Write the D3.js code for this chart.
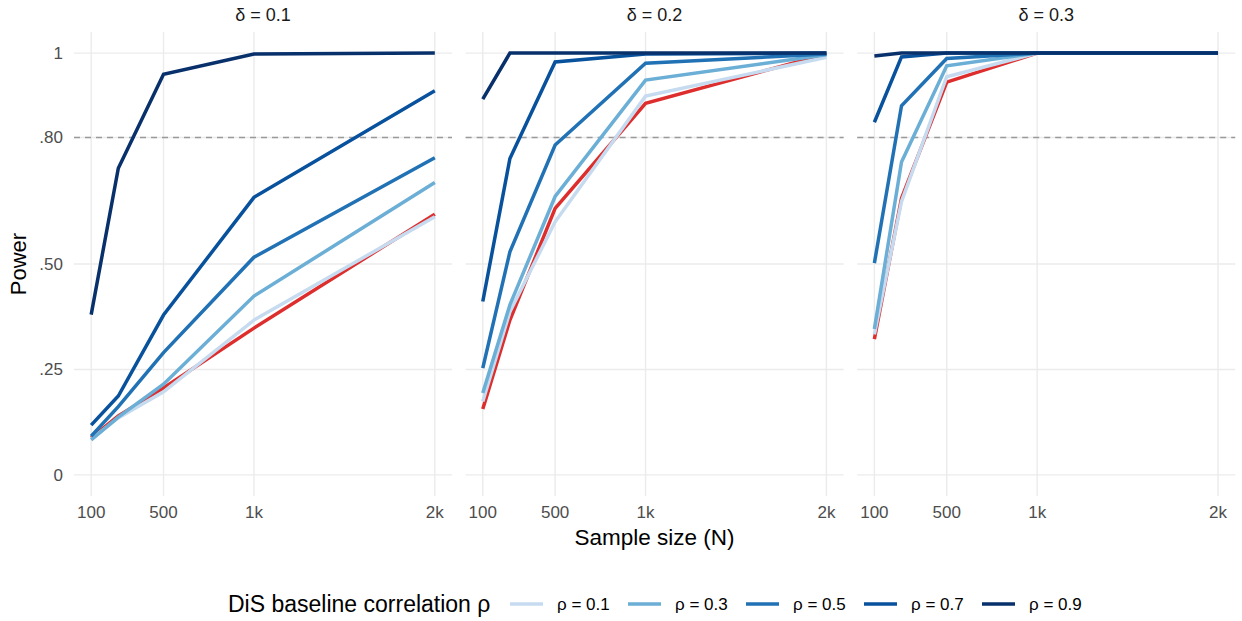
<!DOCTYPE html>
<html>
<head>
<meta charset="utf-8">
<script src="https://cdn.jsdelivr.net/npm/d3@7"></script>
<style>
  body { margin: 0; background: #fff; }
  text { font-family: "Liberation Sans", Arial, sans-serif; }
</style>
</head>
<body>
<div id="chart"></div>
<script>
// data
const sampleSizes = [100, 250, 500, 1000, 2000];
const deltas = ["0.1", "0.2", "0.3"];
const rhos = ["0.1", "0.3", "0.5", "0.7", "0.9"];
const xTicks = [100, 500, 1000, 2000];
const xTickLabels = ["100", "500", "1k", "2k"];
const yTicks = [0, 0.25, 0.5, 0.8, 1];
const yTickLabels = ["0", ".25", ".50", ".80", "1"];

// power per rho (rows) for each delta panel
const powerDelta1 = [
  [0.085, 0.135, 0.197, 0.367, 0.612],
  [0.083, 0.137, 0.215, 0.424, 0.693],
  [0.092, 0.162, 0.290, 0.516, 0.752],
  [0.118, 0.187, 0.379, 0.658, 0.911],
  [0.380, 0.727, 0.950, 0.998, 1.000]
];
const powerDelta2 = [
  [0.174, 0.387, 0.600, 0.898, 0.990],
  [0.194, 0.403, 0.660, 0.936, 0.996],
  [0.253, 0.529, 0.782, 0.976, 0.998],
  [0.411, 0.750, 0.979, 0.998, 1.000],
  [0.891, 1.000, 1.000, 1.000, 1.000]
];
const powerDelta3 = [
  [0.333, 0.648, 0.944, 1.000, 1.000],
  [0.346, 0.742, 0.970, 1.000, 1.000],
  [0.502, 0.875, 0.987, 1.000, 1.000],
  [0.836, 0.991, 1.000, 1.000, 1.000],
  [0.993, 1.000, 1.000, 1.000, 1.000]
];
// red reference curve (not in legend)
const referencePower = [
  [0.088, 0.140, 0.206, 0.348, 0.618],
  [0.156, 0.367, 0.632, 0.881, 0.998],
  [0.322, 0.656, 0.931, 1.000, 1.000]
];
const powerTarget = 0.8;

const panels = [powerDelta1, powerDelta2, powerDelta3];
const rhoColors = ["#c6dbef", "#6baed6", "#2171b5", "#08519c", "#08306b"];
const refColor = "#de2d2d";

const W = 1242, H = 621;
const panelLeft = 74, panelW = 378, panelGap = 13.6;
const panelTop = 32, panelBottom = 496;
const lw = 3.5;

const svg = d3.select("#chart").append("svg")
  .attr("width", W).attr("height", H);

const y = d3.scaleLinear().domain([-0.05, 1.05]).range([panelBottom, panelTop]);

const line = (xs) => d3.line()
  .x((d, i) => xs(sampleSizes[i]))
  .y(d => y(d));

panels.forEach((rows, p) => {
  const x0 = panelLeft + p * (panelW + panelGap);
  const x = d3.scaleLinear().domain([5, 2095]).range([x0, x0 + panelW]);
  const g = svg.append("g");

  // grid
  g.selectAll(".hg").data(yTicks).join("line")
    .attr("x1", x0).attr("x2", x0 + panelW)
    .attr("y1", d => y(d)).attr("y2", d => y(d))
    .attr("stroke", "#ebebeb").attr("stroke-width", 1.4);
  g.selectAll(".vg").data(xTicks).join("line")
    .attr("x1", d => x(d)).attr("x2", d => x(d))
    .attr("y1", panelTop).attr("y2", panelBottom)
    .attr("stroke", "#ebebeb").attr("stroke-width", 1.4);

  // target line
  g.append("line")
    .attr("x1", x0).attr("x2", x0 + panelW)
    .attr("y1", y(powerTarget)).attr("y2", y(powerTarget))
    .attr("stroke", "#9a9a9a").attr("stroke-width", 1.6)
    .attr("stroke-dasharray", "6,5");

  // reference line first, then rho lines
  g.append("path")
    .attr("d", line(x)(referencePower[p]))
    .attr("fill", "none").attr("stroke", refColor).attr("stroke-width", lw);

  rows.forEach((vals, r) => {
    g.append("path")
      .attr("d", line(x)(vals))
      .attr("fill", "none").attr("stroke", rhoColors[r]).attr("stroke-width", lw);
  });

  // x tick labels
  g.selectAll(".xt").data(xTicks).join("text")
    .attr("x", d => x(d)).attr("y", 518)
    .attr("text-anchor", "middle")
    .attr("font-size", 17).attr("fill", "#4d4d4d")
    .text((d, i) => xTickLabels[i]);

  // strip label
  g.append("text")
    .attr("x", x0 + panelW / 2).attr("y", 21)
    .attr("text-anchor", "middle")
    .attr("font-size", 18).attr("fill", "#1a1a1a")
    .text("δ = " + deltas[p]);
});

// y tick labels
svg.selectAll(".yt").data(yTicks).join("text")
  .attr("x", 63).attr("y", d => y(d) + 6)
  .attr("text-anchor", "end")
  .attr("font-size", 17).attr("fill", "#4d4d4d")
  .text((d, i) => yTickLabels[i]);

// axis titles
svg.append("text")
  .attr("x", panelLeft + 1.5 * panelW + panelGap).attr("y", 545)
  .attr("text-anchor", "middle").attr("font-size", 22.5).attr("fill", "#000")
  .text("Sample size (N)");
svg.append("text")
  .attr("transform", `translate(26,${(panelTop + panelBottom) / 2}) rotate(-90)`)
  .attr("text-anchor", "middle").attr("font-size", 22).attr("fill", "#000")
  .text("Power");

// legend
const legY = 604;
svg.append("text")
  .attr("x", 228).attr("y", legY + 8)
  .attr("font-size", 23).attr("fill", "#000")
  .text("DiS baseline correlation ρ");
const legStart = 510, legStep = 118;
rhos.forEach((r, i) => {
  const lx = legStart + i * legStep;
  svg.append("line")
    .attr("x1", lx).attr("x2", lx + 33)
    .attr("y1", legY).attr("y2", legY)
    .attr("stroke", rhoColors[i]).attr("stroke-width", lw);
  svg.append("text")
    .attr("x", lx + 47).attr("y", legY + 6)
    .attr("font-size", 17).attr("fill", "#000")
    .text("ρ = " + r);
});
</script>
</body>
</html>
